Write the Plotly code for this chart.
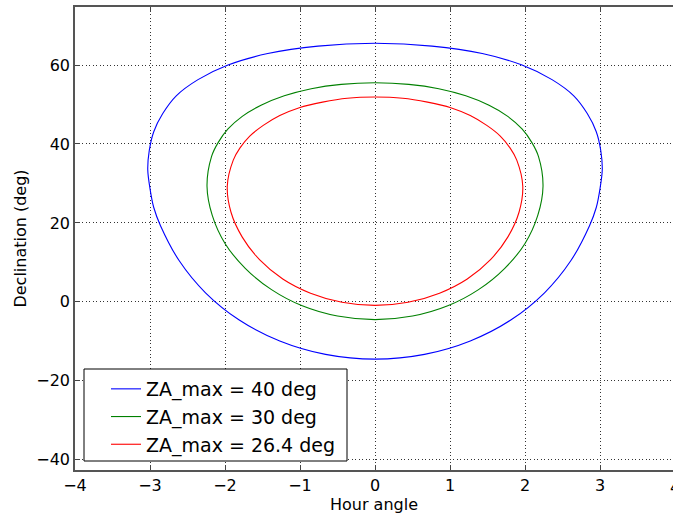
import plotly.graph_objects as go

# Values (hour angle in hours, declination in deg)
ha_40 = [0.00, 0.76, 1.43, 1.96, 2.36, 2.65, 2.83, 2.95, 3.01, 3.03, 3.00, 2.95, 2.86, 2.61, 2.26, 1.81, 1.27, 0.66, 0.00,
         -0.66, -1.27, -1.81, -2.26, -2.61, -2.86, -2.95, -3.00, -3.03, -3.01, -2.95, -2.83, -2.65, -2.36, -1.96, -1.43, -0.76, 0.00]
dec_40 = [65.5, 64.8, 62.9, 60.0, 56.3, 52.2, 47.7, 43.1, 38.3, 33.5, 28.7, 23.9, 19.3, 10.4, 2.3, -4.6, -9.9, -13.3, -14.5,
          -13.3, -9.9, -4.6, 2.3, 10.4, 19.3, 23.9, 28.7, 33.5, 38.3, 43.1, 47.7, 52.2, 56.3, 60.0, 62.9, 64.8, 65.5]

ha_30 = [0.00, 0.45, 0.85, 1.21, 1.52, 1.77, 1.96, 2.09, 2.18, 2.24, 2.17, 2.00, 1.73, 1.38, 0.97, 0.50, 0.00,
         -0.50, -0.97, -1.38, -1.73, -2.00, -2.17, -2.24, -2.18, -2.09, -1.96, -1.77, -1.52, -1.21, -0.85, -0.45, 0.00]
dec_30 = [55.5, 55.1, 54.0, 52.2, 49.8, 47.0, 43.8, 40.4, 36.8, 29.3, 21.9, 14.8, 8.5, 3.1, -1.0, -3.6, -4.5,
          -3.6, -1.0, 3.1, 8.5, 14.8, 21.9, 29.3, 36.8, 40.4, 43.8, 47.0, 49.8, 52.2, 54.0, 55.1, 55.5]

ha_264 = [0.00, 0.37, 0.70, 1.01, 1.27, 1.49, 1.67, 1.80, 1.89, 1.97, 1.92, 1.77, 1.54, 1.23, 0.86, 0.44, 0.00,
          -0.44, -0.86, -1.23, -1.54, -1.77, -1.92, -1.97, -1.89, -1.80, -1.67, -1.49, -1.27, -1.01, -0.70, -0.37, 0.00]
dec_264 = [51.9, 51.6, 50.6, 49.2, 47.2, 44.7, 42.0, 39.0, 35.9, 29.3, 22.7, 16.4, 10.7, 5.8, 2.2, -0.1, -0.9,
           -0.1, 2.2, 5.8, 10.7, 16.4, 22.7, 29.3, 35.9, 39.0, 42.0, 44.7, 47.2, 49.2, 50.6, 51.6, 51.9]

series_names = ["ZA_max = 40 deg", "ZA_max = 30 deg", "ZA_max = 26.4 deg"]
series_colors = ["#0000ff", "#008000", "#ff0000"]

x_ticks = [-4, -3, -2, -1, 0, 1, 2, 3, 4]
y_ticks = [-40, -20, 0, 20, 40, 60]

FONT = "DejaVu Sans"

fig = go.Figure()
for i, (xs, ys) in enumerate([(ha_40, dec_40), (ha_30, dec_30), (ha_264, dec_264)]):
    fig.add_trace(go.Scatter(
        x=xs, y=ys, mode="lines", name=series_names[i], legendgroup=f"g{i}",
        line=dict(color=series_colors[i], width=1.1, shape="spline", smoothing=0.9),
    ))

# legend box (matplotlib-style frame)
fig.add_shape(type="rect", xref="paper", yref="paper",
              x0=(84 - 75) / 598, x1=(347 - 75) / 598,
              y0=(470 - 461) / 463, y1=(470 - 369) / 463,
              line=dict(color="black", width=1), fillcolor="white", layer="above")

# the partially visible "4" tick label at the cut-off right edge
fig.add_annotation(xref="paper", yref="paper", x=(674.5 - 75) / 598, y=0,
                   yshift=-6, text="4", showarrow=False, xanchor="center", yanchor="top",
                   font=dict(family=FONT, size=16, color="black"))

axis_common = dict(
    showgrid=True, gridcolor="#333", griddash="1px,2.5px", gridwidth=1,
    zeroline=False, ticks="inside", ticklen=5, tickcolor="#444", tickwidth=1,
    showline=True, linecolor="#555", linewidth=1.5,
    tickfont=dict(family=FONT, size=16, color="black"),
)

fig.update_layout(
    width=673, height=518,
    margin=dict(l=75, r=0, t=7, b=48),
    paper_bgcolor="white", plot_bgcolor="white",
    font=dict(family=FONT, size=16, color="black"),
    showlegend=True,
    legend=dict(x=(106 - 75) / 598, xanchor="left", y=(470 - 370) / 463, yanchor="top",
                bgcolor="rgba(0,0,0,0)", borderwidth=0,
                font=dict(family=FONT, size=19, color="black"),
                traceorder="grouped", tracegroupgap=0),
    xaxis=dict(range=[-4, 3.973], tickvals=x_ticks, mirror="ticks",
               title=dict(text="Hour angle", font=dict(family=FONT, size=16), standoff=4),
               **axis_common),
    yaxis=dict(range=[-42.6, 74.7], tickvals=y_ticks, mirror=False,
               title=dict(text="Declination (deg)", font=dict(family=FONT, size=16), standoff=6),
               **axis_common),
)

fig.write_html("out.html")
